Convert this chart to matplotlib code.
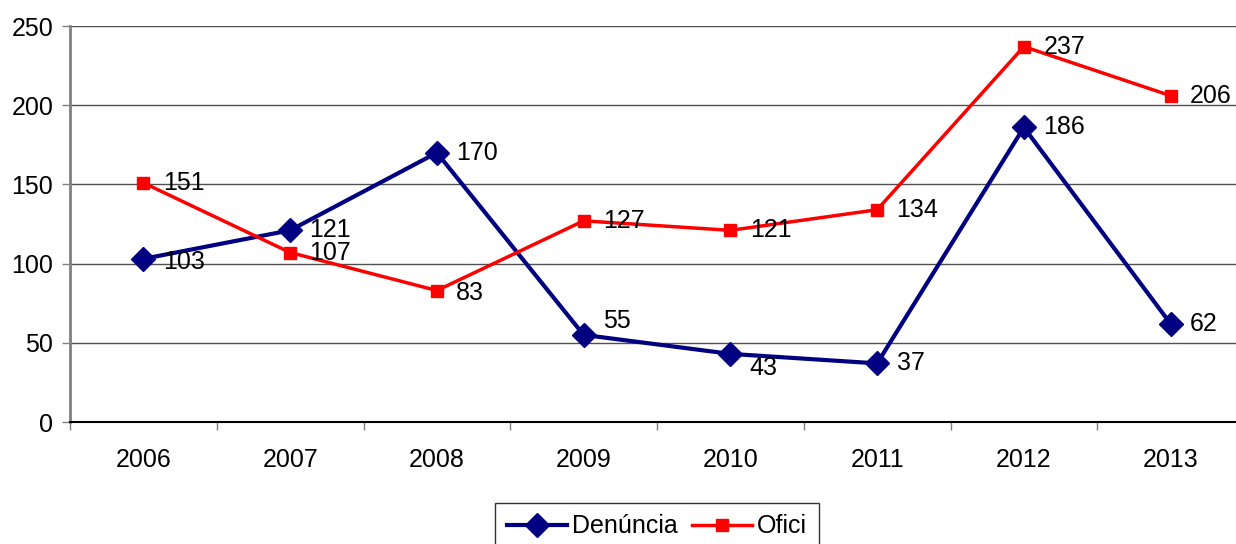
import numpy as np
import matplotlib
matplotlib.use("Agg")
import matplotlib.pyplot as plt

plt.rcParams["font.family"] = ["Liberation Sans", "DejaVu Sans"]

years = ["2006", "2007", "2008", "2009", "2010", "2011", "2012", "2013"]
denuncia = [103, 121, 170, 55, 43, 37, 186, 62]
ofici = [151, 107, 83, 127, 121, 134, 237, 206]

# label nudges (points) where the label is not just right of the marker
den_dy = {0: -2, 3: 10, 4: -10}
of_dy = {2: -2}

fig = plt.figure(figsize=(12.36, 5.44), dpi=100)
ax = fig.add_axes([70 / 1236, 122 / 544, 1174 / 1236, 396 / 544])

x = np.arange(len(years))
ax.plot(x, denuncia, color="#000080", lw=3, marker="D", ms=12,
        label="Denúncia", zorder=3)
ax.plot(x, ofici, color="#FF0000", lw=2.5, marker="s", ms=8,
        label="Ofici", zorder=3)

for i, v in enumerate(denuncia):
    ax.annotate(str(v), (x[i], v), xytext=(14, den_dy.get(i, 0)),
                textcoords="offset points", va="center", ha="left",
                fontsize=18)
for i, v in enumerate(ofici):
    ax.annotate(str(v), (x[i], v), xytext=(14, of_dy.get(i, 0)),
                textcoords="offset points", va="center", ha="left",
                fontsize=18)

ax.set_xlim(-0.5, len(years) - 0.5)
ax.set_ylim(0, 250)
ax.set_yticks(range(0, 251, 50))
ax.yaxis.grid(True, color="#505050", lw=1)
ax.set_axisbelow(True)

ax.set_xticks(x)
ax.set_xticklabels(years, fontsize=18)
ax.set_xticks(np.arange(-0.5, len(years)), minor=True)
ax.tick_params(axis="x", which="major", length=0, pad=19)
ax.tick_params(axis="x", which="minor", length=6, color="#808080", width=1)
ax.tick_params(axis="y", length=6, color="#808080", width=1, labelsize=18, pad=6)

for s in ["top", "right"]:
    ax.spines[s].set_visible(False)
ax.spines["left"].set_color("#808080")
ax.spines["left"].set_linewidth(2)
ax.spines["bottom"].set_color("black")
ax.spines["bottom"].set_linewidth(1.5)

leg = fig.legend(loc="upper center", bbox_to_anchor=(657 / 1236, 1 - 503 / 544),
                 ncol=2, fontsize=18, frameon=True, fancybox=False,
                 edgecolor="black", handlelength=2.4, handletextpad=0.2,
                 columnspacing=0.6, borderpad=0.45, borderaxespad=0)
leg.get_frame().set_linewidth(1)

fig.savefig("out.png", dpi=100)
